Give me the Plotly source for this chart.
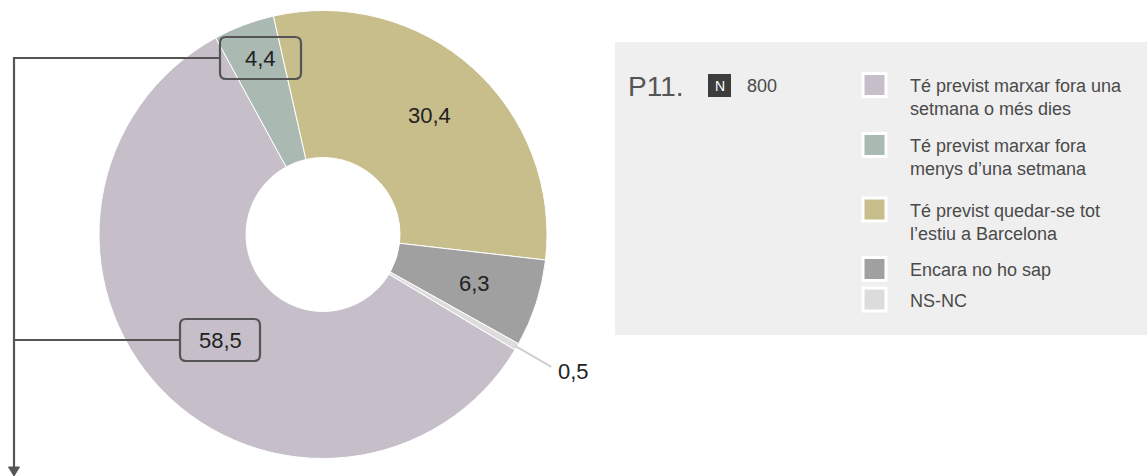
import math
import plotly.graph_objects as go

W, H = 1147, 476

labels = [
    "Té previst marxar fora una<br>setmana o més dies",
    "Té previst marxar fora<br>menys d’una setmana",
    "Té previst quedar-se tot<br>l’estiu a Barcelona",
    "Encara no ho sap",
    "NS-NC",
]
values = [58.5, 4.4, 30.4, 6.3, 0.5]
colors = ["#c6bfca", "#aab9b1", "#c7be8c", "#a0a0a0", "#dcdcdc"]
question = "P11."
n_total = "800"

ROT = 121.0
CX, CY, R, R_IN = 323.0, 234.5, 224.0, 77.0
FONT = "Liberation Sans, Arial, sans-serif"


def px(x):
    return x / W


def py(y):
    return 1 - y / H


def fmt(v):
    return f"{v:.1f}".replace(".", ",")


fig = go.Figure()
fig.add_trace(go.Pie(
    labels=[l.replace("<br>", " ") for l in labels],
    values=values,
    marker=dict(colors=colors, line=dict(color="white", width=1)),
    hole=R_IN / R,
    sort=False,
    direction="clockwise",
    rotation=ROT,
    textinfo="none",
    hoverinfo="label+value",
    showlegend=False,
    domain=dict(x=[px(CX - R), px(CX + R)], y=[py(CY + R), py(CY - R)]),
))

# mid angles of slices (clockwise from 12 o'clock)
total = sum(values)
mids = []
start = ROT
for v in values:
    span = v / total * 360
    mids.append(start + span / 2)
    start += span


def polar(angle, r):
    a = math.radians(angle)
    return CX + r * math.sin(a), CY - r * math.cos(a)


shapes = []
annotations = []
LINE = "#555555"


def text(x, y, s, size, color, xanchor="center", yanchor="middle", align="center"):
    annotations.append(dict(x=px(x), y=py(y), xref="paper", yref="paper",
                            text=s, showarrow=False, xanchor=xanchor, yanchor=yanchor,
                            align=align, font=dict(family=FONT, size=size, color=color)))


# legend background
shapes.append(dict(type="rect", xref="paper", yref="paper",
                   x0=px(615), x1=px(1147), y0=py(335), y1=py(42),
                   fillcolor="#efefef", line=dict(width=0), layer="below"))


def rounded_box(cx, cy, w, h, r=6):
    x0, x1 = cx - w / 2, cx + w / 2
    y0, y1 = cy - h / 2, cy + h / 2
    pts = [
        ("M", x0 + r, y0), ("L", x1 - r, y0), ("Q", x1, y0, x1, y0 + r),
        ("L", x1, y1 - r), ("Q", x1, y1, x1 - r, y1), ("L", x0 + r, y1),
        ("Q", x0, y1, x0, y1 - r), ("L", x0, y0 + r), ("Q", x0, y0, x0 + r, y0),
    ]
    d = ""
    for p in pts:
        cmd = p[0]
        coords = p[1:]
        parts = []
        for i in range(0, len(coords), 2):
            parts.append(f"{px(coords[i]):.5f},{py(coords[i+1]):.5f}")
        d += cmd + " " + " ".join(parts) + " "
    return d + "Z"


# in-slice labels
label_r = [None, None, 160, 159, None]
for i, v in enumerate(values):
    if label_r[i]:
        x, y = polar(mids[i], label_r[i])
        text(x, y, fmt(v), 22, "#222222")

# boxed labels (4,4 and 58,5) with bracket arrow
box_specs = [(1, (260.5, 58), 81, 42), (0, (220, 340), 80, 42)]
ARROW_X = 14
ys = []
for idx, (x, y), bw, bh in box_specs:
    shapes.append(dict(type="path", xref="paper", yref="paper",
                       path=rounded_box(x, y, bw, bh),
                       line=dict(color=LINE, width=2.2), fillcolor="rgba(0,0,0,0)"))
    shapes.append(dict(type="line", xref="paper", yref="paper",
                       x0=px(ARROW_X), x1=px(x - bw / 2), y0=py(y), y1=py(y),
                       line=dict(color=LINE, width=2.2)))
    text(x, y, fmt(values[idx]), 22, "#222222")
    ys.append(y)

shapes.append(dict(type="line", xref="paper", yref="paper",
                   x0=px(ARROW_X), x1=px(ARROW_X), y0=py(min(ys) - 1), y1=py(469),
                   line=dict(color=LINE, width=2.2)))
shapes.append(dict(type="path", xref="paper", yref="paper",
                   path=f"M {px(ARROW_X-5.5)},{py(467)} L {px(ARROW_X+5.5)},{py(467)} L {px(ARROW_X)},{py(476)} Z",
                   fillcolor=LINE, line=dict(color=LINE, width=1)))

# outside label for small slice
x0, y0 = polar(mids[4], 222)
x1, y1 = polar(mids[4], 264)
shapes.append(dict(type="line", xref="paper", yref="paper",
                   x0=px(x0), y0=py(y0), x1=px(x1), y1=py(y1),
                   line=dict(color="#cfcfcf", width=2)))
text(x1 + 5, y1 + 5, fmt(values[4]), 22, "#222222", xanchor="left")

# legend header
text(626, 86, question, 28, "#555555", xanchor="left")
shapes.append(dict(type="rect", xref="paper", yref="paper",
                   x0=px(708), x1=px(731), y0=py(97), y1=py(74),
                   fillcolor="#3d3d3d", line=dict(width=0)))
text(719.5, 85.5, "N", 14, "white")
text(745, 86, n_total, 18, "#4a4a4a", xanchor="left")

# legend items
item_y = [85, 145, 209.5, 269, 299.5]
for lab, col, yc in zip(labels, colors, item_y):
    shapes.append(dict(type="rect", xref="paper", yref="paper",
                       x0=px(863), x1=px(886), y0=py(yc + 11.5), y1=py(yc - 11.5),
                       fillcolor=col, line=dict(color="white", width=3)))
    text(908, yc - 11, lab, 18, "#4a4a4a", xanchor="left", yanchor="top", align="left")

fig.update_layout(
    width=W, height=H,
    margin=dict(l=0, r=0, t=0, b=0),
    paper_bgcolor="white",
    plot_bgcolor="white",
    shapes=shapes,
    annotations=annotations,
)

fig.write_html("out.html", config={"displayModeBar": False},
               post_script="document.body.style.margin='0';")
